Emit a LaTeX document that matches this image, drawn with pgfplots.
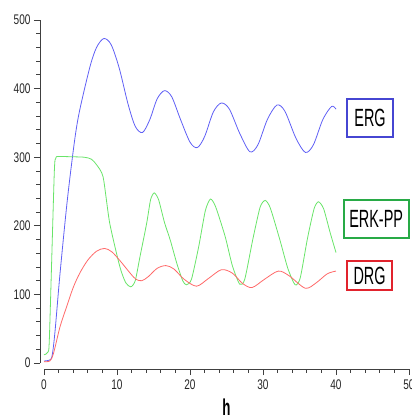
\documentclass[border=0pt]{standalone}
\usepackage{pgfplots}
\pgfplotsset{compat=1.18}
\usepackage{fontspec}
\setmainfont{Liberation Sans}
\newfontfamily\tickfont[FakeStretch=0.72]{Liberation Sans}
\newfontfamily\labfont[FakeStretch=0.58]{Liberation Sans}
\definecolor{ergline}{RGB}{95,95,245}
\definecolor{erkline}{RGB}{105,228,105}
\definecolor{drgline}{RGB}{255,105,105}
\definecolor{ergbox}{RGB}{70,70,210}
\definecolor{erkbox}{RGB}{40,170,70}
\definecolor{drgbox}{RGB}{225,35,45}
\begin{document}
\begin{tikzpicture}
\begin{axis}[
  scale only axis, width=365bp, height=343bp,
  xmin=0, xmax=50, ymin=0, ymax=500,
  axis lines=left,
  axis line style={-, line width=0.8bp, black!75},
  axis x line shift=6bp, axis y line shift=4bp,
  xtick={0,10,...,50}, ytick={0,100,...,500},
  minor x tick num=4, minor y tick num=4,
  tick align=outside, major tick length=6bp, minor tick length=3.5bp,
  tick style={black!75, line width=0.8bp},
  /pgf/number format/assume math mode=true,
  ticklabel style={font=\tickfont\fontsize{14}{14}\selectfont, text=black!85},
  xticklabel style={yshift=-1bp},
  xlabel={\labfont\bfseries\fontsize{23}{23}\selectfont h},
  xlabel style={at={(rel axis cs:0.5,0)}, anchor=center, yshift=-44bp},
  clip=false,
]
\addplot[ergline, line width=0.8bp, smooth] coordinates {
(0,3) (0.7,4) (1.1,10) (1.5,45) (2.2,131) (3.2,238) (4.2,325) (4.9,369) (6.3,432) (7.2,460) (8.2,473) (9.2,464) (10.3,430) (11.5,378) (12.5,345) (13.5,336) (14.5,355) (15.5,385) (16.5,397) (17.5,388) (18.7,355) (20,322) (21,314) (22,330) (23.2,366) (24.3,379) (25.4,370) (26.8,335) (28.2,308) (29.3,318) (30.6,355) (31.9,376) (33,367) (34.5,328) (35.8,307) (36.9,318) (38.2,355) (39.4,374) (40,370)
};
\addplot[erkline, line width=0.8bp, smooth, tension=0.4] coordinates {
(0,12) (0.55,16) (0.75,40) (1.4,275) (1.6,298) (1.8,301) (2.5,301) (5.5,300) (6.5,297) (7.2,289) (8.1,271) (9.0,204) (10.4,140) (11.2,117) (11.9,111) (12.5,120) (13.15,155) (14.07,204) (14.6,238) (15.1,248) (15.7,238) (16.5,205) (17.3,179) (18.2,145) (19.0,120) (19.5,114) (20.2,122) (21.2,170) (22.1,222) (22.8,239) (23.5,228) (24.8,185) (25.8,142) (26.8,115) (27.5,122) (28.6,180) (29.6,227) (30.3,237) (31.0,226) (32.3,180) (33.4,138) (34.4,114) (35.1,124) (36.1,182) (37.0,225) (37.6,235) (38.3,225) (39.2,190) (40,161)
};
\addplot[drgline, line width=0.8bp, smooth] coordinates {
(0,2) (0.8,3) (1.3,14) (2.2,53) (3.1,82) (4.0,110) (4.9,131) (6.0,150) (7.2,163) (8.3,167) (9.3,162) (10.5,148) (11.8,131) (12.6,122) (13.4,120) (14.3,126) (15.5,138) (16.7,142) (17.8,137) (19.2,122) (20.9,112) (22.5,123) (24.3,136) (25.8,131) (27.2,116) (28.5,110) (30.2,122) (32.1,134) (33.6,127) (35.8,109) (37.3,117) (38.8,130) (40,134)
};
\coordinate (O) at (axis cs:0,0);
\node[draw=ergbox, line width=2bp, minimum width=46bp, minimum height=38bp, inner sep=0pt, font=\labfont\fontsize{25}{25}\selectfont] at (axis cs:44.66,357) {ERG};
\node[draw=erkbox, line width=2bp, minimum width=65bp, minimum height=38bp, inner sep=0pt, font=\labfont\fontsize{25}{25}\selectfont] at (axis cs:45.5,210.6) {ERK-PP};
\node[draw=drgbox, line width=2bp, minimum width=45bp, minimum height=29bp, inner sep=0pt, font=\labfont\fontsize{25}{25}\selectfont] at (axis cs:44.6,127) {DRG};
\end{axis}
\pgfresetboundingbox
\useasboundingbox ([shift={(-44bp,-54bp)}]O) rectangle ([shift={(368bp,363bp)}]O);
\end{tikzpicture}
\end{document}
